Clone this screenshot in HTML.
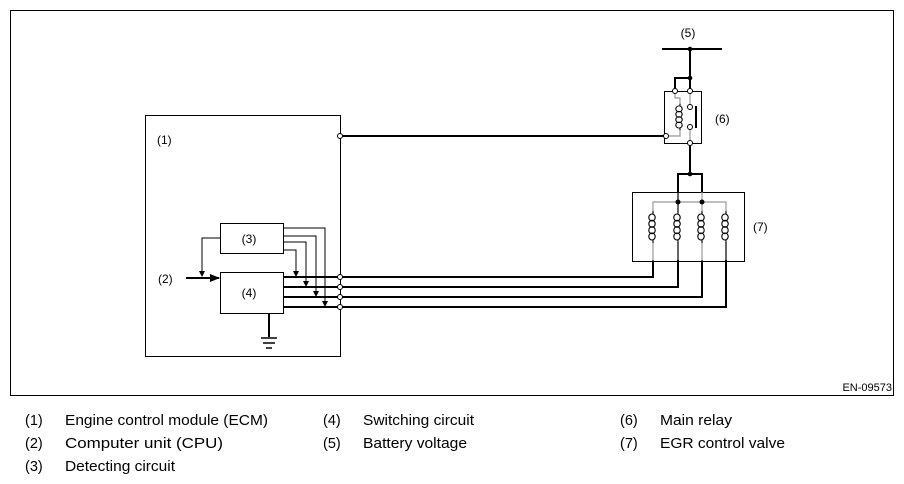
<!DOCTYPE html>
<html><head><style>html,body{margin:0;padding:0;background:#fff}svg{display:block}</style></head>
<body>
<svg width="904" height="484" viewBox="0 0 904 484" xmlns="http://www.w3.org/2000/svg" font-family="Liberation Sans, Arial, sans-serif">
<defs>
<marker id="ar" markerWidth="6" markerHeight="6" refX="5" refY="3" orient="auto" markerUnits="userSpaceOnUse"><path d="M0,0 L6,3 L0,6z" fill="#000"/></marker>
<marker id="ar2" markerWidth="10" markerHeight="8" refX="9" refY="4" orient="auto" markerUnits="userSpaceOnUse"><path d="M0,0 L10,4 L0,8z" fill="#000"/></marker>
<g id="coil" fill="none" stroke="#000" stroke-width="1.1">
<line x1="0" y1="-16" x2="0" y2="-13"/>
<line x1="0" y1="13" x2="0" y2="16"/>
<ellipse cx="-1" cy="-9.5" rx="3.2" ry="3.5"/>
<ellipse cx="-1" cy="-3.2" rx="3.2" ry="3.5"/>
<ellipse cx="-1" cy="3.2" rx="3.2" ry="3.5"/>
<ellipse cx="-1" cy="9.5" rx="3.2" ry="3.5"/>
</g>
</defs>
<rect x="10.5" y="10.5" width="883" height="385" fill="none" stroke="#000" stroke-width="1"/>
<text x="892" y="391" font-size="11" text-anchor="end">EN-09573</text>

<!-- ECM -->
<rect x="145.5" y="115.5" width="195" height="241" fill="none" stroke="#000"/>
<text x="157" y="144" font-size="12">(1)</text>
<rect x="220.5" y="223.5" width="63" height="30" fill="none" stroke="#000"/>
<text x="249" y="243" font-size="12" text-anchor="middle">(3)</text>
<rect x="220.5" y="272.5" width="63" height="41" fill="none" stroke="#000"/>
<text x="249" y="297" font-size="12" text-anchor="middle">(4)</text>
<text x="158" y="283" font-size="12">(2)</text>
<line x1="186" y1="278" x2="219" y2="278" stroke="#000" stroke-width="2" marker-end="url(#ar2)"/>
<polyline points="220,238 202,238 202,276" fill="none" stroke="#000" marker-end="url(#ar)"/>
<g fill="none" stroke="#000" stroke-width="1">
<polyline points="283,228 325,228 325,306" marker-end="url(#ar)"/>
<polyline points="283,236 316,236 316,296" marker-end="url(#ar)"/>
<polyline points="283,242 306,242 306,286" marker-end="url(#ar)"/>
<polyline points="283,250 296,250 296,276" marker-end="url(#ar)"/>
</g>
<line x1="269" y1="313" x2="269" y2="337" stroke="#000" stroke-width="2"/>
<line x1="261" y1="338" x2="277" y2="338" stroke="#000" stroke-width="1.5"/>
<line x1="263" y1="343" x2="275" y2="343" stroke="#000" stroke-width="1.5"/>
<line x1="266" y1="348" x2="272" y2="348" stroke="#000" stroke-width="1.5"/>

<!-- output lines -->
<g fill="none" stroke="#000" stroke-width="2">
<polyline points="283,277 653,277 653,260"/>
<polyline points="283,287 678,287 678,260"/>
<polyline points="283,297 702,297 702,260"/>
<polyline points="283,307 726,307 726,260"/>
<line x1="340" y1="136" x2="664" y2="136"/>
<line x1="662" y1="49" x2="722" y2="49"/>
<polyline points="690,49 690,78 675,78 675,89"/>
<line x1="690" y1="78" x2="690" y2="89"/>
<polyline points="690,145 690,174"/>
<polyline points="678,192 678,174 702,174 702,192"/>
</g>
<g fill="#fff" stroke="#000" stroke-width="1">
<circle cx="340" cy="277" r="2.5"/><circle cx="340" cy="287" r="2.5"/><circle cx="340" cy="297" r="2.5"/><circle cx="340" cy="307" r="2.5"/>
<circle cx="340" cy="136" r="2.5"/>
</g>

<!-- relay -->
<text x="688" y="37" font-size="12" text-anchor="middle">(5)</text>
<circle cx="690" cy="49" r="2.3"/><circle cx="690" cy="78" r="2.3"/>
<rect x="664.5" y="91.5" width="37" height="52" fill="none" stroke="#000"/>
<g stroke="#999" fill="none" stroke-width="1.2">
<polyline points="675,93 675,98 680,98 680,103"/>
<polyline points="668,136 680,136 680,131"/>
<line x1="690" y1="93" x2="690" y2="105"/>
<line x1="690" y1="129" x2="690" y2="141"/>
</g>
<g transform="translate(680,117) scale(1,0.85)"><use href="#coil"/></g>
<rect x="695" y="106" width="2" height="22" fill="#000"/>
<g fill="#fff" stroke="#000" stroke-width="1">
<circle cx="675" cy="91" r="2.5"/><circle cx="690" cy="91" r="2.5"/>
<circle cx="690" cy="107" r="2.5"/><circle cx="690" cy="127" r="2.5"/>
<circle cx="666" cy="136" r="2.5"/><circle cx="690" cy="143" r="2.5"/>
</g>
<text x="715" y="123" font-size="12">(6)</text>
<circle cx="690" cy="174" r="2.3"/>

<!-- EGR valve -->
<rect x="632.5" y="192.5" width="112" height="69" fill="none" stroke="#000"/>
<g stroke="#999" fill="none" stroke-width="1.2">
<polyline points="653,212 653,202 702,202"/>
<polyline points="702,202 726,202 726,212"/>
<line x1="702" y1="192" x2="702" y2="212"/>
<line x1="702" y1="242" x2="702" y2="261"/>
<line x1="653" y1="242" x2="653" y2="261"/>
</g>
<g stroke="#000" fill="none" stroke-width="1.2">
<line x1="678" y1="192" x2="678" y2="212"/>
<line x1="678" y1="242" x2="678" y2="261"/>
<line x1="726" y1="242" x2="726" y2="261"/>
</g>
<g transform="translate(653,227)"><use href="#coil"/></g>
<g transform="translate(678,227)"><use href="#coil"/></g>
<g transform="translate(702,227)"><use href="#coil"/></g>
<g transform="translate(726,227)"><use href="#coil"/></g>
<circle cx="678" cy="202" r="2.5"/><circle cx="702" cy="202" r="2.5"/>
<text x="753" y="231" font-size="12">(7)</text>

<!-- legend -->
<g font-size="14.5">
<text x="25" y="425">(1)</text><text x="65" y="425" textLength="203" lengthAdjust="spacingAndGlyphs">Engine control module (ECM)</text>
<text x="25" y="448">(2)</text><text x="65" y="448" textLength="158" lengthAdjust="spacingAndGlyphs">Computer unit (CPU)</text>
<text x="25" y="471">(3)</text><text x="65" y="471" textLength="110" lengthAdjust="spacingAndGlyphs">Detecting circuit</text>
<text x="323" y="425">(4)</text><text x="363" y="425" textLength="111" lengthAdjust="spacingAndGlyphs">Switching circuit</text>
<text x="323" y="448">(5)</text><text x="363" y="448" textLength="104" lengthAdjust="spacingAndGlyphs">Battery voltage</text>
<text x="620" y="425">(6)</text><text x="660" y="425" textLength="72" lengthAdjust="spacingAndGlyphs">Main relay</text>
<text x="620" y="448">(7)</text><text x="660" y="448" textLength="125" lengthAdjust="spacingAndGlyphs">EGR control valve</text>
</g>
</svg>
</body></html>
